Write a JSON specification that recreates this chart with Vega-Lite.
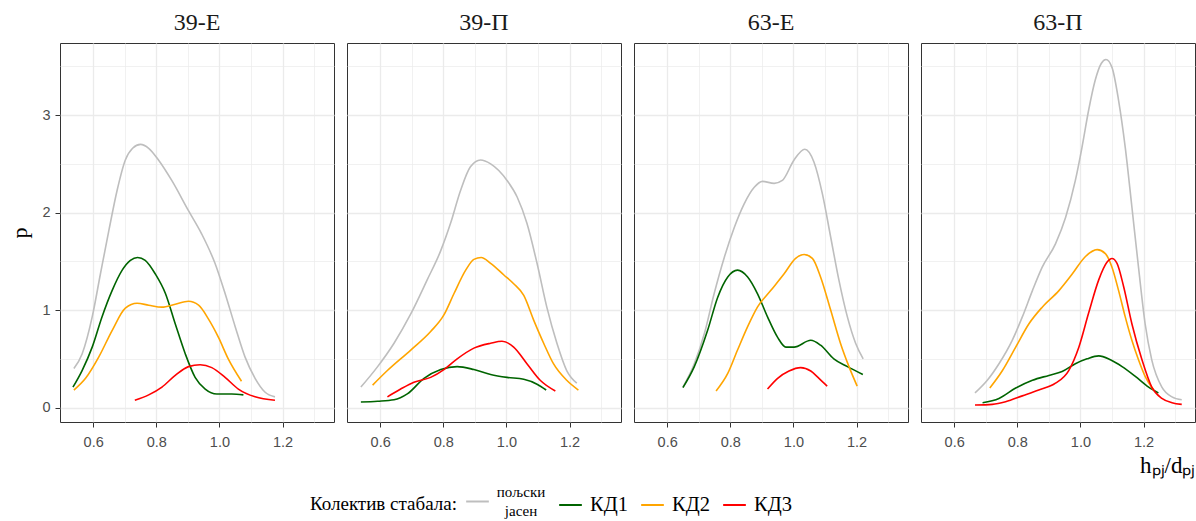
{
  "$schema": "https://vega.github.io/schema/vega-lite/v6.json",
  "background": "white",
  "padding": {"left": 8, "top": 10, "right": 0, "bottom": 0},
  "spacing": 11,
  "datasets": {
    "d1": [
      {"g":"пољски јасен","x":0.539,"y":0.40},{"g":"пољски јасен","x":0.565,"y":0.55},{"g":"пољски јасен","x":0.597,"y":0.93},{"g":"пољски јасен","x":0.623,"y":1.37},{"g":"пољски јасен","x":0.650,"y":1.82},{"g":"пољски јасен","x":0.676,"y":2.23},{"g":"пољски јасен","x":0.702,"y":2.54},{"g":"пољски јасен","x":0.725,"y":2.66},{"g":"пољски јасен","x":0.750,"y":2.70},{"g":"пољски јасен","x":0.776,"y":2.66},{"g":"пољски јасен","x":0.807,"y":2.54},{"g":"пољски јасен","x":0.849,"y":2.33},{"g":"пољски јасен","x":0.902,"y":2.02},{"g":"пољски јасен","x":0.944,"y":1.78},{"g":"пољски јасен","x":0.986,"y":1.48},{"g":"пољски јасен","x":1.018,"y":1.17},{"g":"пољски јасен","x":1.050,"y":0.83},{"g":"пољски јасен","x":1.081,"y":0.52},{"g":"пољски јасен","x":1.113,"y":0.30},{"g":"пољски јасен","x":1.144,"y":0.16},{"g":"пољски јасен","x":1.176,"y":0.11},
      {"g":"КД1","x":0.536,"y":0.21},{"g":"КД1","x":0.565,"y":0.38},{"g":"КД1","x":0.597,"y":0.62},{"g":"КД1","x":0.628,"y":0.93},{"g":"КД1","x":0.660,"y":1.20},{"g":"КД1","x":0.692,"y":1.41},{"g":"КД1","x":0.718,"y":1.51},{"g":"КД1","x":0.741,"y":1.54},{"g":"КД1","x":0.765,"y":1.51},{"g":"КД1","x":0.797,"y":1.37},{"g":"КД1","x":0.829,"y":1.17},{"g":"КД1","x":0.860,"y":0.86},{"g":"КД1","x":0.892,"y":0.55},{"g":"КД1","x":0.923,"y":0.31},{"g":"КД1","x":0.955,"y":0.19},{"g":"КД1","x":0.992,"y":0.14},{"g":"КД1","x":1.039,"y":0.14},{"g":"КД1","x":1.076,"y":0.13},
      {"g":"КД2","x":0.539,"y":0.18},{"g":"КД2","x":0.576,"y":0.30},{"g":"КД2","x":0.618,"y":0.52},{"g":"КД2","x":0.660,"y":0.79},{"g":"КД2","x":0.702,"y":1.02},{"g":"КД2","x":0.739,"y":1.07},{"g":"КД2","x":0.776,"y":1.05},{"g":"КД2","x":0.818,"y":1.03},{"g":"КД2","x":0.860,"y":1.06},{"g":"КД2","x":0.902,"y":1.09},{"g":"КД2","x":0.934,"y":1.05},{"g":"КД2","x":0.965,"y":0.91},{"g":"КД2","x":0.997,"y":0.72},{"g":"КД2","x":1.028,"y":0.50},{"g":"КД2","x":1.070,"y":0.27},
      {"g":"КД3","x":0.732,"y":0.075},{"g":"КД3","x":0.776,"y":0.13},{"g":"КД3","x":0.818,"y":0.21},{"g":"КД3","x":0.860,"y":0.33},{"g":"КД3","x":0.902,"y":0.42},{"g":"КД3","x":0.939,"y":0.44},{"g":"КД3","x":0.976,"y":0.41},{"g":"КД3","x":1.018,"y":0.31},{"g":"КД3","x":1.060,"y":0.19},{"g":"КД3","x":1.113,"y":0.11},{"g":"КД3","x":1.176,"y":0.075}
    ],
    "d2": [
      {"g":"пољски јасен","x":0.539,"y":0.21},{"g":"пољски јасен","x":0.592,"y":0.42},{"g":"пољски јасен","x":0.644,"y":0.66},{"g":"пољски јасен","x":0.697,"y":0.96},{"g":"пољски јасен","x":0.749,"y":1.31},{"g":"пољски јасен","x":0.792,"y":1.61},{"g":"пољски јасен","x":0.823,"y":1.89},{"g":"пољски јасен","x":0.855,"y":2.23},{"g":"пољски јасен","x":0.886,"y":2.47},{"g":"пољски јасен","x":0.918,"y":2.54},{"g":"пољски јасен","x":0.950,"y":2.50},{"g":"пољски јасен","x":1.002,"y":2.33},{"g":"пољски јасен","x":1.034,"y":2.16},{"g":"пољски јасен","x":1.065,"y":1.89},{"g":"пољски јасен","x":1.097,"y":1.48},{"g":"пољски јасен","x":1.128,"y":1.03},{"g":"пољски јасен","x":1.160,"y":0.66},{"g":"пољски јасен","x":1.191,"y":0.38},{"g":"пољски јасен","x":1.223,"y":0.25},
      {"g":"КД1","x":0.539,"y":0.057},{"g":"КД1","x":0.592,"y":0.065},{"g":"КД1","x":0.644,"y":0.08},{"g":"КД1","x":0.686,"y":0.14},{"g":"КД1","x":0.739,"y":0.30},{"g":"КД1","x":0.792,"y":0.39},{"g":"КД1","x":0.844,"y":0.42},{"g":"КД1","x":0.897,"y":0.39},{"g":"КД1","x":0.950,"y":0.34},{"g":"КД1","x":1.002,"y":0.31},{"g":"КД1","x":1.055,"y":0.29},{"g":"КД1","x":1.097,"y":0.24},{"g":"КД1","x":1.126,"y":0.18},
      {"g":"КД2","x":0.576,"y":0.23},{"g":"КД2","x":0.623,"y":0.38},{"g":"КД2","x":0.697,"y":0.59},{"g":"КД2","x":0.760,"y":0.78},{"g":"КД2","x":0.802,"y":0.95},{"g":"КД2","x":0.834,"y":1.17},{"g":"КД2","x":0.871,"y":1.41},{"g":"КД2","x":0.897,"y":1.52},{"g":"КД2","x":0.920,"y":1.54},{"g":"КД2","x":0.950,"y":1.48},{"g":"КД2","x":0.992,"y":1.36},{"g":"КД2","x":1.023,"y":1.27},{"g":"КД2","x":1.055,"y":1.15},{"g":"КД2","x":1.086,"y":0.90},{"g":"КД2","x":1.118,"y":0.66},{"g":"КД2","x":1.149,"y":0.45},{"g":"КД2","x":1.191,"y":0.28},{"g":"КД2","x":1.228,"y":0.18},
      {"g":"КД3","x":0.623,"y":0.11},{"g":"КД3","x":0.665,"y":0.19},{"g":"КД3","x":0.707,"y":0.26},{"g":"КД3","x":0.760,"y":0.31},{"g":"КД3","x":0.802,"y":0.39},{"g":"КД3","x":0.844,"y":0.50},{"g":"КД3","x":0.897,"y":0.61},{"g":"КД3","x":0.950,"y":0.66},{"g":"КД3","x":0.986,"y":0.68},{"g":"КД3","x":1.023,"y":0.62},{"g":"КД3","x":1.065,"y":0.45},{"g":"КД3","x":1.107,"y":0.28},{"g":"КД3","x":1.155,"y":0.17}
    ],
    "d3": [
      {"g":"пољски јасен","x":0.650,"y":0.21},{"g":"пољски јасен","x":0.686,"y":0.45},{"g":"пољски јасен","x":0.718,"y":0.76},{"g":"пољски јасен","x":0.749,"y":1.17},{"g":"пољски јасен","x":0.781,"y":1.54},{"g":"пољски јасен","x":0.813,"y":1.85},{"g":"пољски јасен","x":0.844,"y":2.09},{"g":"пољски јасен","x":0.876,"y":2.26},{"g":"пољски јасен","x":0.902,"y":2.32},{"g":"пољски јасен","x":0.939,"y":2.30},{"g":"пољски јасен","x":0.965,"y":2.33},{"g":"пољски јасен","x":1.002,"y":2.54},{"g":"пољски јасен","x":1.036,"y":2.65},{"g":"пољски јасен","x":1.065,"y":2.52},{"g":"пољски јасен","x":1.092,"y":2.19},{"g":"пољски јасен","x":1.118,"y":1.75},{"g":"пољски јасен","x":1.144,"y":1.31},{"g":"пољски јасен","x":1.171,"y":0.93},{"g":"пољски јасен","x":1.197,"y":0.66},{"g":"пољски јасен","x":1.221,"y":0.50},
      {"g":"КД1","x":0.650,"y":0.205},{"g":"КД1","x":0.686,"y":0.42},{"g":"КД1","x":0.728,"y":0.79},{"g":"КД1","x":0.760,"y":1.13},{"g":"КД1","x":0.792,"y":1.34},{"g":"КД1","x":0.823,"y":1.41},{"g":"КД1","x":0.855,"y":1.34},{"g":"КД1","x":0.886,"y":1.17},{"g":"КД1","x":0.918,"y":0.93},{"g":"КД1","x":0.950,"y":0.72},{"g":"КД1","x":0.976,"y":0.62},{"g":"КД1","x":1.002,"y":0.62},{"g":"КД1","x":1.055,"y":0.69},{"g":"КД1","x":1.086,"y":0.64},{"g":"КД1","x":1.128,"y":0.50},{"g":"КД1","x":1.171,"y":0.42},{"g":"КД1","x":1.220,"y":0.34},
      {"g":"КД2","x":0.755,"y":0.17},{"g":"КД2","x":0.792,"y":0.35},{"g":"КД2","x":0.823,"y":0.59},{"g":"КД2","x":0.855,"y":0.83},{"g":"КД2","x":0.886,"y":1.03},{"g":"КД2","x":0.928,"y":1.20},{"g":"КД2","x":0.970,"y":1.37},{"g":"КД2","x":1.007,"y":1.53},{"g":"КД2","x":1.034,"y":1.57},{"g":"КД2","x":1.060,"y":1.53},{"g":"КД2","x":1.086,"y":1.34},{"g":"КД2","x":1.118,"y":1.00},{"g":"КД2","x":1.149,"y":0.66},{"g":"КД2","x":1.176,"y":0.42},{"g":"КД2","x":1.202,"y":0.22},
      {"g":"КД3","x":0.918,"y":0.19},{"g":"КД3","x":0.950,"y":0.30},{"g":"КД3","x":0.986,"y":0.375},{"g":"КД3","x":1.023,"y":0.41},{"g":"КД3","x":1.055,"y":0.375},{"g":"КД3","x":1.081,"y":0.30},{"g":"КД3","x":1.107,"y":0.22}
    ],
    "d4": [
      {"g":"пољски јасен","x":0.666,"y":0.15},{"g":"пољски јасен","x":0.705,"y":0.28},{"g":"пољски јасен","x":0.742,"y":0.45},{"g":"пољски јасен","x":0.784,"y":0.69},{"g":"пољски јасен","x":0.816,"y":0.93},{"g":"пољски јасен","x":0.848,"y":1.20},{"g":"пољски јасен","x":0.879,"y":1.44},{"g":"пољски јасен","x":0.921,"y":1.68},{"g":"пољски јасен","x":0.953,"y":1.95},{"g":"пољски јасен","x":0.984,"y":2.33},{"g":"пољски јасен","x":1.005,"y":2.67},{"g":"пољски јасен","x":1.026,"y":3.05},{"g":"пољски јасен","x":1.047,"y":3.36},{"g":"пољски јасен","x":1.066,"y":3.53},{"g":"пољски јасен","x":1.081,"y":3.57},{"g":"пољски јасен","x":1.100,"y":3.49},{"g":"пољски јасен","x":1.121,"y":3.15},{"g":"пољски јасен","x":1.142,"y":2.67},{"g":"пољски јасен","x":1.163,"y":2.06},{"g":"пољски јасен","x":1.184,"y":1.44},{"g":"пољски јасен","x":1.205,"y":0.86},{"g":"пољски јасен","x":1.226,"y":0.49},{"g":"пољски јасен","x":1.258,"y":0.21},{"g":"пољски јасен","x":1.290,"y":0.11},{"g":"пољски јасен","x":1.321,"y":0.08},
      {"g":"КД1","x":0.690,"y":0.05},{"g":"КД1","x":0.742,"y":0.094},{"g":"КД1","x":0.795,"y":0.20},{"g":"КД1","x":0.848,"y":0.28},{"g":"КД1","x":0.900,"y":0.33},{"g":"КД1","x":0.942,"y":0.37},{"g":"КД1","x":0.984,"y":0.45},{"g":"КД1","x":1.021,"y":0.50},{"g":"КД1","x":1.058,"y":0.53},{"g":"КД1","x":1.095,"y":0.49},{"g":"КД1","x":1.132,"y":0.42},{"g":"КД1","x":1.174,"y":0.32},{"g":"КД1","x":1.216,"y":0.21},{"g":"КД1","x":1.247,"y":0.15},
      {"g":"КД2","x":0.713,"y":0.20},{"g":"КД2","x":0.753,"y":0.38},{"g":"КД2","x":0.795,"y":0.62},{"g":"КД2","x":0.837,"y":0.86},{"g":"КД2","x":0.879,"y":1.03},{"g":"КД2","x":0.932,"y":1.20},{"g":"КД2","x":0.974,"y":1.37},{"g":"КД2","x":1.016,"y":1.55},{"g":"КД2","x":1.053,"y":1.62},{"g":"КД2","x":1.079,"y":1.58},{"g":"КД2","x":1.100,"y":1.44},{"g":"КД2","x":1.121,"y":1.20},{"g":"КД2","x":1.142,"y":0.93},{"g":"КД2","x":1.163,"y":0.69},{"g":"КД2","x":1.184,"y":0.49},{"g":"КД2","x":1.205,"y":0.32},{"g":"КД2","x":1.232,"y":0.18},
      {"g":"КД3","x":0.666,"y":0.026},{"g":"КД3","x":0.721,"y":0.033},{"g":"КД3","x":0.763,"y":0.06},{"g":"КД3","x":0.816,"y":0.12},{"g":"КД3","x":0.868,"y":0.18},{"g":"КД3","x":0.921,"y":0.25},{"g":"КД3","x":0.963,"y":0.38},{"g":"КД3","x":0.995,"y":0.62},{"g":"КД3","x":1.026,"y":0.97},{"g":"КД3","x":1.058,"y":1.31},{"g":"КД3","x":1.084,"y":1.49},{"g":"КД3","x":1.100,"y":1.53},{"g":"КД3","x":1.116,"y":1.48},{"g":"КД3","x":1.137,"y":1.24},{"g":"КД3","x":1.163,"y":0.86},{"g":"КД3","x":1.195,"y":0.49},{"g":"КД3","x":1.226,"y":0.21},{"g":"КД3","x":1.258,"y":0.094},{"g":"КД3","x":1.290,"y":0.05},{"g":"КД3","x":1.321,"y":0.033}
    ]
  },
  "hconcat": [
    {
      "data": {"name": "d1"},
      "title": "39-Е",
      "width": 274, "height": 379,
      "mark": {"type": "line", "interpolate": "monotone", "strokeWidth": 1.6},
      "encoding": {
        "x": {"field": "x", "type": "quantitative", "scale": {"domain": [0.495, 1.363], "nice": false, "zero": false},
              "axis": {"title": null, "values": [0.6,0.7,0.8,0.9,1.0,1.1,1.2,1.3], "labelExpr": "round(datum.value*10)%2==0 ? format(datum.value,'.1f') : ''", "tickOpacity": {"condition": {"test": "round(datum.value*10)%2==1", "value": 0}, "value": 1}, "gridWidth": {"condition": {"test": "round(datum.value*10)%2==1", "value": 0.7}, "value": 1.3}}},
        "y": {"field": "y", "type": "quantitative", "scale": {"domain": [-0.148, 3.74], "nice": false, "zero": false},
              "axis": {"title": "p", "titleFontSize": 22, "titlePadding": 10, "labelPadding": 5, "values": [0,0.5,1,1.5,2,2.5,3,3.5], "labelExpr": "datum.value%1==0 ? format(datum.value,'d') : ''", "tickOpacity": {"condition": {"test": "datum.value%1!=0", "value": 0}, "value": 1}, "gridWidth": {"condition": {"test": "datum.value%1!=0", "value": 0.7}, "value": 1.3}}},
        "color": {"field": "g", "type": "nominal",
                  "scale": {"domain": ["пољски јасен","КД1","КД2","КД3"], "range": ["#BEBEBE","#006400","#FFA500","#FF0000"]},
                  "legend": {"title": "Колектив стабала:", "orient": "none", "legendX": 250, "legendY": 446, "direction": "horizontal", "titleOrient": "left", "titleAnchor": "middle", "titleBaseline": "middle",
                             "labelExpr": "datum.value == 'пољски јасен' ? ['пољски','јасен'] : datum.label",
                             "encode": {"labels": {"update": {
                               "fontSize": {"signal": "datum.value == 'пољски јасен' ? 15 : 20.5"},
                               "lineHeight": {"value": 19},
                               "dy": {"signal": "datum.value == 'пољски јасен' ? -9.5 : 0"},
                               "align": {"signal": "datum.value == 'пољски јасен' ? 'center' : 'left'"},
                               "dx": {"signal": "datum.value == 'пољски јасен' ? 24 : 0"}
                             }}}}}
      }
    },
    {
      "data": {"name": "d2"},
      "title": "39-П",
      "width": 274, "height": 379,
      "mark": {"type": "line", "interpolate": "monotone", "strokeWidth": 1.6},
      "encoding": {
        "x": {"field": "x", "type": "quantitative", "scale": {"domain": [0.495, 1.363], "nice": false, "zero": false},
              "axis": {"title": null, "values": [0.6,0.7,0.8,0.9,1.0,1.1,1.2,1.3], "labelExpr": "round(datum.value*10)%2==0 ? format(datum.value,'.1f') : ''", "tickOpacity": {"condition": {"test": "round(datum.value*10)%2==1", "value": 0}, "value": 1}, "gridWidth": {"condition": {"test": "round(datum.value*10)%2==1", "value": 0.7}, "value": 1.3}}},
        "y": {"field": "y", "type": "quantitative", "scale": {"domain": [-0.148, 3.74], "nice": false, "zero": false},
              "axis": {"title": null, "labels": false, "ticks": false, "minExtent": 0, "values": [0,0.5,1,1.5,2,2.5,3,3.5], "gridWidth": {"condition": {"test": "datum.value%1!=0", "value": 0.7}, "value": 1.3}}},
        "color": {"field": "g", "type": "nominal", "scale": {"domain": ["пољски јасен","КД1","КД2","КД3"], "range": ["#BEBEBE","#006400","#FFA500","#FF0000"]}}
      }
    },
    {
      "data": {"name": "d3"},
      "title": "63-Е",
      "width": 274, "height": 379,
      "mark": {"type": "line", "interpolate": "monotone", "strokeWidth": 1.6},
      "encoding": {
        "x": {"field": "x", "type": "quantitative", "scale": {"domain": [0.495, 1.363], "nice": false, "zero": false},
              "axis": {"title": null, "values": [0.6,0.7,0.8,0.9,1.0,1.1,1.2,1.3], "labelExpr": "round(datum.value*10)%2==0 ? format(datum.value,'.1f') : ''", "tickOpacity": {"condition": {"test": "round(datum.value*10)%2==1", "value": 0}, "value": 1}, "gridWidth": {"condition": {"test": "round(datum.value*10)%2==1", "value": 0.7}, "value": 1.3}}},
        "y": {"field": "y", "type": "quantitative", "scale": {"domain": [-0.148, 3.74], "nice": false, "zero": false},
              "axis": {"title": null, "labels": false, "ticks": false, "minExtent": 0, "values": [0,0.5,1,1.5,2,2.5,3,3.5], "gridWidth": {"condition": {"test": "datum.value%1!=0", "value": 0.7}, "value": 1.3}}},
        "color": {"field": "g", "type": "nominal", "scale": {"domain": ["пољски јасен","КД1","КД2","КД3"], "range": ["#BEBEBE","#006400","#FFA500","#FF0000"]}}
      }
    },
    {
      "data": {"name": "d4"},
      "title": "63-П",
      "width": 274, "height": 379,
      "mark": {"type": "line", "interpolate": "monotone", "strokeWidth": 1.6},
      "encoding": {
        "x": {"field": "x", "type": "quantitative", "scale": {"domain": [0.495, 1.363], "nice": false, "zero": false},
              "axis": {"title": "hₚⱼ/dₚⱼ", "titleAnchor": "end", "titleFontSize": 23, "titlePadding": 6, "values": [0.6,0.7,0.8,0.9,1.0,1.1,1.2,1.3], "labelExpr": "round(datum.value*10)%2==0 ? format(datum.value,'.1f') : ''", "tickOpacity": {"condition": {"test": "round(datum.value*10)%2==1", "value": 0}, "value": 1}, "gridWidth": {"condition": {"test": "round(datum.value*10)%2==1", "value": 0.7}, "value": 1.3}}},
        "y": {"field": "y", "type": "quantitative", "scale": {"domain": [-0.148, 3.74], "nice": false, "zero": false},
              "axis": {"title": null, "labels": false, "ticks": false, "minExtent": 0, "values": [0,0.5,1,1.5,2,2.5,3,3.5], "gridWidth": {"condition": {"test": "datum.value%1!=0", "value": 0.7}, "value": 1.3}}},
        "color": {"field": "g", "type": "nominal", "scale": {"domain": ["пољски јасен","КД1","КД2","КД3"], "range": ["#BEBEBE","#006400","#FFA500","#FF0000"]}}
      }
    }
  ],
  "config": {
    "view": {"stroke": "#333333", "strokeWidth": 1},
    "axis": {"domain": false, "grid": true, "gridColor": "#EBEBEB", "tickColor": "#333333", "tickSize": 5, "tickWidth": 1, "labelFont": "Liberation Sans", "labelFontSize": 14.5, "labelColor": "#4D4D4D", "labelPadding": 8, "titleFont": "Liberation Serif", "titleFontWeight": "normal", "titleColor": "#000000"},
    "title": {"font": "Liberation Serif", "fontSize": 24, "fontWeight": "normal", "color": "#1A1A1A", "offset": 8},
    "legend": {"titleFont": "Liberation Serif", "titleFontSize": 19, "titleFontWeight": "normal", "titleColor": "#000000", "labelFont": "Liberation Serif", "labelFontSize": 20.5, "labelColor": "#000000", "symbolType": "stroke", "symbolSize": 515, "symbolStrokeWidth": 2, "labelOffset": 7, "columnPadding": 9, "titlePadding": 8}
  }
}
